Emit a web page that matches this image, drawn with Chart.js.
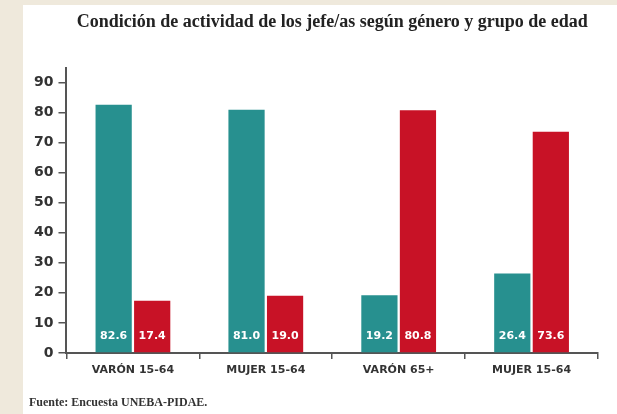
<!DOCTYPE html>
<html>
<head>
<meta charset="utf-8">
<script src="https://cdn.jsdelivr.net/npm/chart.js@4.4.0/dist/chart.umd.min.js"></script>
<style>
  html, body { margin: 0; padding: 0; }
  body { width: 617px; height: 414px; background: #efe9dc; position: relative; overflow: hidden; }
  #panel { position: absolute; left: 23px; top: 5px; right: 0; bottom: 0; background: #fff; }
  #chart-1 { position: absolute; left: 0; top: 0; }
</style>
</head>
<body>
<div id="panel"></div>
<canvas id="chart-1" width="617" height="414"></canvas>
<script>
// Data
var categories = ["VARÓN 15-64", "MUJER 15-64", "VARÓN 65+", "MUJER 15-64"];
var activos = [82.6, 81.0, 19.2, 26.4];
var inactivos = [17.4, 19.0, 80.8, 73.6];
var yTicks = [0, 10, 20, 30, 40, 50, 60, 70, 80, 90];

var axisColor = "#555";

// White value labels at the foot of each bar
const barLabels = {
  id: "barLabels",
  afterDatasetsDraw: function (chart) {
    const ctx = chart.ctx;
    ctx.save();
    ctx.fillStyle = "#ffffff";
    ctx.font = "bold 11px 'DejaVu Sans'";
    ctx.textAlign = "center";
    ctx.textBaseline = "middle";
    chart.data.datasets.forEach(function (ds, i) {
      chart.getDatasetMeta(i).data.forEach(function (bar, j) {
        ctx.fillText(ds.data[j].toFixed(1), bar.x, bar.base - 16);
      });
    });
    ctx.restore();
  }
};

const ctx1 = document.getElementById("chart-1").getContext("2d");
const myChart = new Chart(ctx1, {
  type: "bar",
  data: {
    labels: categories,
    datasets: [
      {
        label: "Activo",
        data: activos,
        backgroundColor: "#27908f",
        categoryPercentage: 0.58,
        barPercentage: 0.94
      },
      {
        label: "Inactivo",
        data: inactivos,
        backgroundColor: "#c81226",
        categoryPercentage: 0.58,
        barPercentage: 0.94
      }
    ]
  },
  options: {
    responsive: false,
    animation: false,
    layout: { padding: { left: 29, right: 19, top: 0, bottom: 0 } },
    plugins: {
      legend: { display: false },
      tooltip: { enabled: false },
      title: {
        display: true,
        text: "Condición de actividad de los jefe/as según género y grupo de edad",
        fullSize: false,
        color: "#222",
        font: { family: "'Liberation Serif'", size: 18, weight: "bold" },
        padding: { top: 12, bottom: 34 }
      },
      subtitle: {
        display: true,
        position: "bottom",
        align: "start",
        text: "Fuente: Encuesta UNEBA-PIDAE.",
        color: "#333",
        font: { family: "'Liberation Serif'", size: 12, weight: "bold" },
        padding: { top: 13.5, bottom: 4 }
      }
    },
    scales: {
      x: {
        grid: { drawOnChartArea: false, tickLength: 6, color: axisColor, lineWidth: 1.5 },
        border: { color: axisColor, width: 2 },
        ticks: {
          color: "#333",
          padding: 5,
          maxRotation: 0,
          font: { family: "'DejaVu Sans'", size: 11, weight: "bold" }
        }
      },
      y: {
        min: 0,
        max: 95,
        afterBuildTicks: function (scale) {
          scale.ticks = yTicks.map(function (v) { return { value: v }; });
        },
        grid: { drawOnChartArea: false, tickLength: 8, color: axisColor, lineWidth: 1.5 },
        border: { color: axisColor, width: 2 },
        ticks: {
          color: "#333",
          padding: 5,
          font: { family: "'DejaVu Sans'", size: 14, weight: "bold" }
        }
      }
    }
  },
  plugins: [barLabels]
});
</script>
</body>
</html>
